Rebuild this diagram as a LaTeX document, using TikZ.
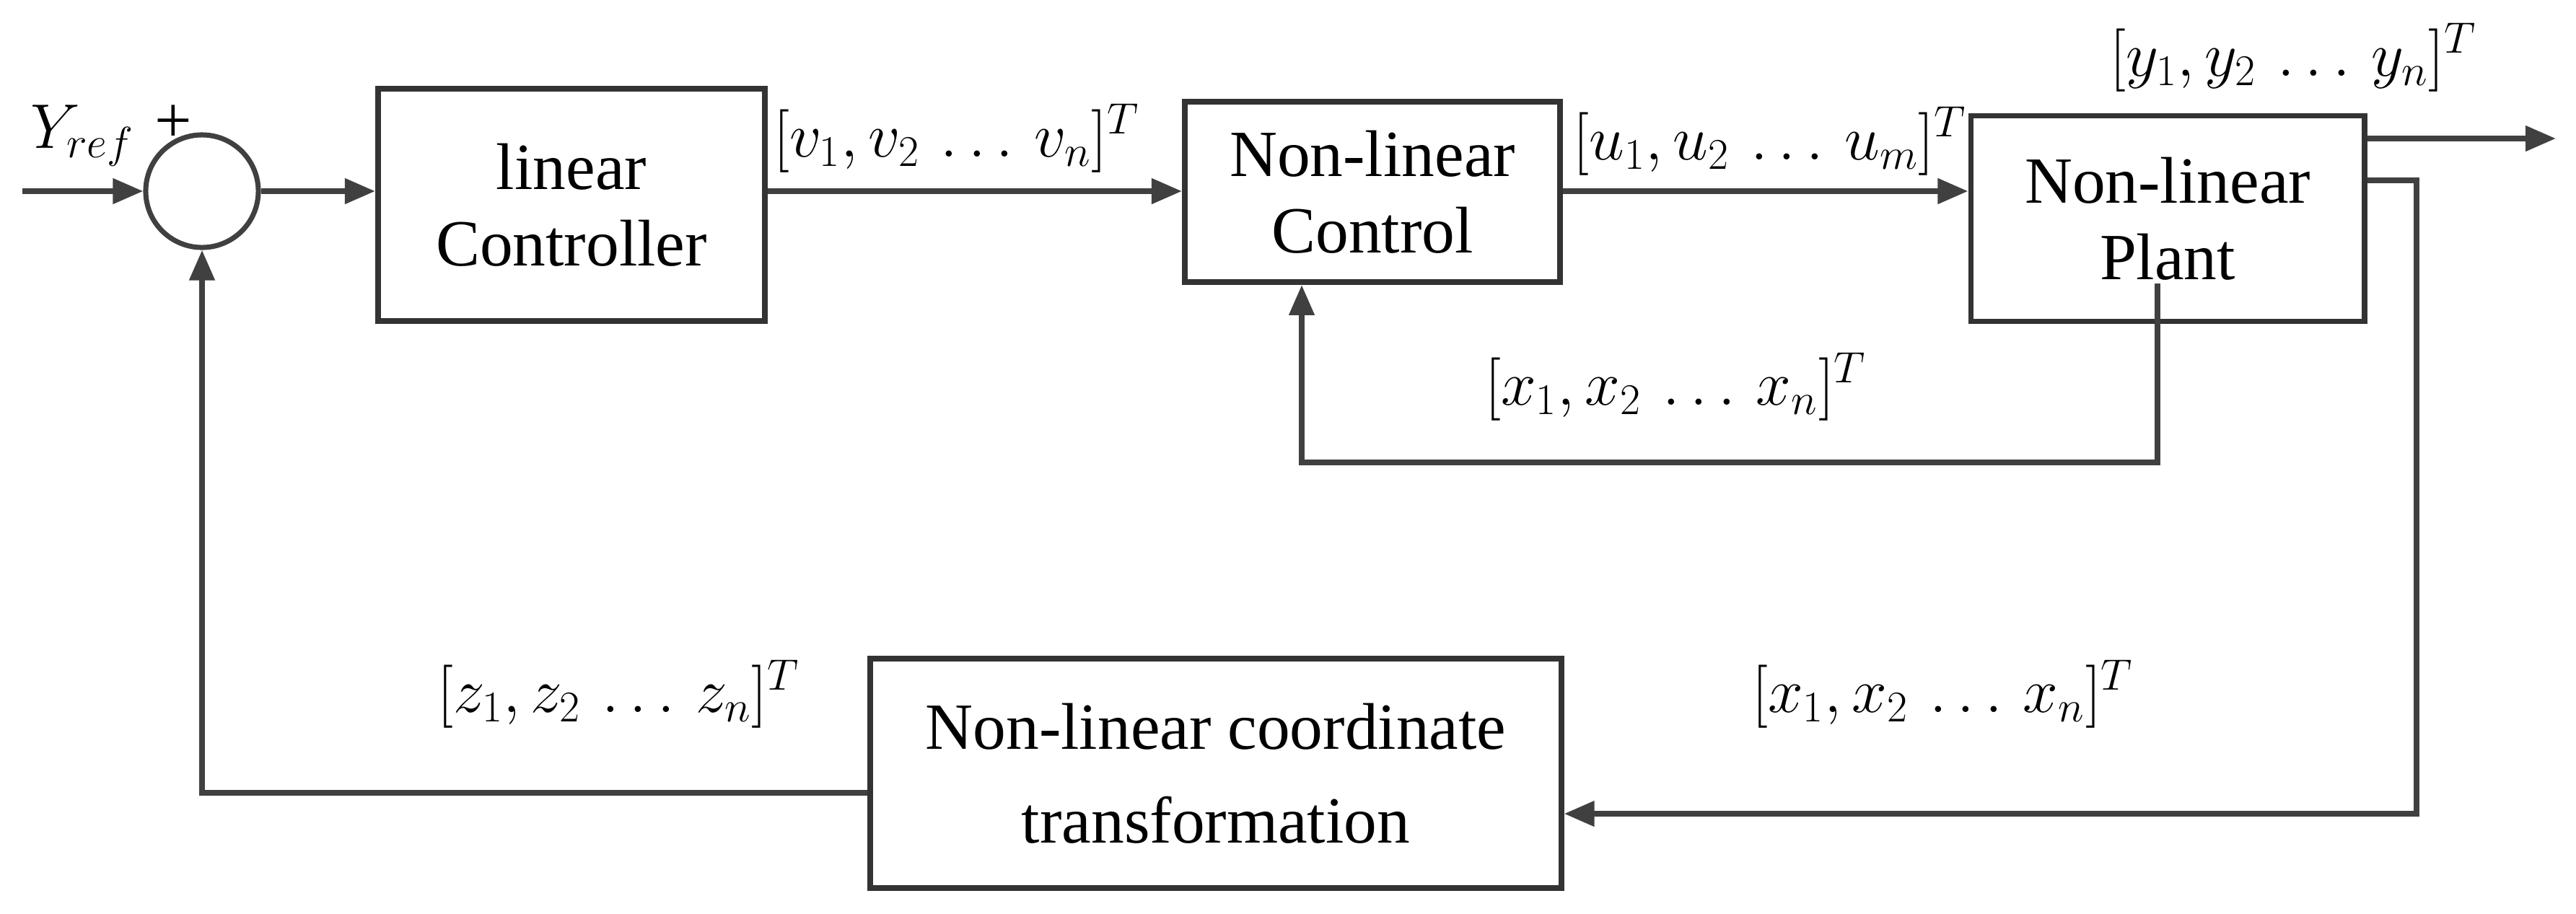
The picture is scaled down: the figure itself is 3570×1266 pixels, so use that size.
\documentclass[tikz,border=0pt]{standalone}
\usepackage{fontspec}
\setmainfont{Liberation Serif}
\newfontfamily\boxfont{Liberation Serif}
\usetikzlibrary{arrows.meta,calc}
\begin{document}
\begin{tikzpicture}[x=0.01cm,y=-0.01cm,
  every node/.style={font=\boxfont\fontsize{26}{30}\selectfont},
  box/.style={draw=black!80,line width=2.2pt,align=center,inner sep=0pt},
  ln/.style={draw=black!75,line width=2.2pt},
  arr/.style={ln,-{Triangle[length=0.42cm,width=0.34cm]}}]
\useasboundingbox (0,0) rectangle (3570,1266);
\node[draw=black!75,line width=2pt,circle,minimum size=1.56cm,inner sep=0pt] (sum) at (280,265) {};
\node[box,minimum width=5.36cm,minimum height=3.22cm] (lin) at (792,284) {linear\\Controller};
\node[box,minimum width=5.2cm,minimum height=2.5cm] (nlc) at (1902,266) {Non-linear\\Control};
\node[box,minimum width=5.45cm,minimum height=2.85cm] (plant) at (3004,303) {Non-linear\\Plant};
\node[box,minimum width=9.57cm,minimum height=3.18cm] (tr) at (1685,1072) {Non-linear coordinate\\[0.25cm]transformation};
\coordinate (in) at (31,265);
\coordinate (out) at (3542,192);
\coordinate (p1) at (2990,393);
\coordinate (c1) at (2990,641);
\coordinate (c2) at (1804,641);
\coordinate (r1) at (3349,250);
\coordinate (r2) at (3349,1128);
\coordinate (l1) at (280,1099);
% main path
\draw[arr] (in) -- (sum.west);
\draw[arr] (sum.east) -- (sum.east -| lin.west);
\draw[arr] (lin.east |- sum) -- (nlc.west |- sum);
\draw[arr] (nlc.east |- sum) -- (plant.west |- sum);
\draw[arr] (plant.east |- out) -- (out);
% inner feedback
\draw[arr] (p1) -- (c1) -- (c2) -- (nlc.south -| c2);
% outer feedback
\draw[arr] (plant.east |- r1) -- (r1) -- (r2) -- (tr.east |- r2);
\draw[arr] (tr.west |- l1) -- (l1) -- (sum.south);
% labels
\node[anchor=west] (lyref) at (30,188) {$Y_{ref}$};
\node (lplus) at (240,172) {+};
\node[anchor=west] (lv) at (1060,192) {$[v_1,v_2\,\ldots\,v_n]^T$};
\node[anchor=west] (lu) at (2168,196) {$[u_1,u_2\,\ldots\,u_m]^T$};
\node[anchor=west] (ly) at (2912,80) {$[y_1,y_2\,\ldots\,y_n]^T$};
\node[anchor=west] (lx1) at (2046,536) {$[x_1,x_2\,\ldots\,x_n]^T$};
\node[anchor=west] (lz) at (594,962) {$[z_1,z_2\,\ldots\,z_n]^T$};
\node[anchor=west] (lx2) at (2416,962) {$[x_1,x_2\,\ldots\,x_n]^T$};
\end{tikzpicture}
\end{document}
